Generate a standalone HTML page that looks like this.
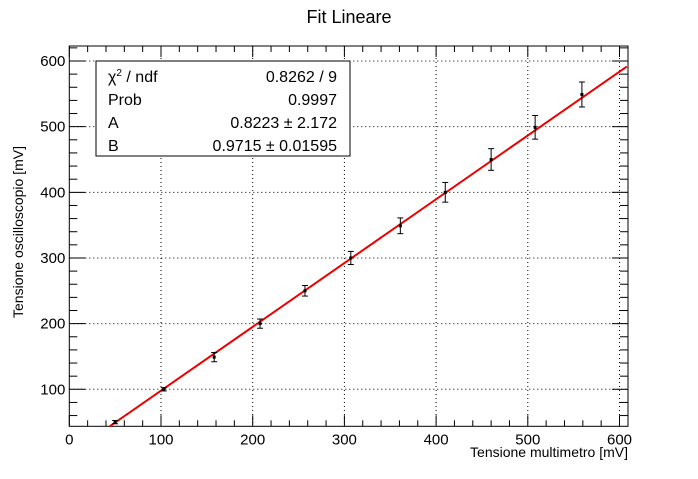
<!DOCTYPE html>
<html><head><meta charset="utf-8"><style>
body{margin:0;background:#fff;width:698px;height:474px;overflow:hidden}
svg text{font-family:"Liberation Sans",sans-serif}
</style></head><body>
<svg id="c" width="698" height="474" xmlns="http://www.w3.org/2000/svg">
<text x="349" y="23" font-size="18" text-anchor="middle">Fit Lineare</text>
<g id="grid"></g><g id="axes"></g><g id="marks"></g>
<g>
<rect x="96" y="61" width="254" height="95" fill="#fff" stroke="#000" stroke-width="1"/>
<text x="108" y="82" font-size="16">χ<tspan font-size="10" dy="-6">2</tspan><tspan dy="6"> / ndf</tspan></text>
<text x="337" y="82" font-size="16" text-anchor="end">0.8262 / 9</text>
<text x="108" y="105" font-size="16">Prob</text>
<text x="337" y="105" font-size="16" text-anchor="end">0.9997</text>
<text x="108" y="128" font-size="16">A</text>
<text x="337" y="128" font-size="16" text-anchor="end">0.8223 ± 2.172</text>
<text x="108" y="151" font-size="16">B</text>
<text x="337" y="151" font-size="16" text-anchor="end">0.9715 ± 0.01595</text>
</g>
<text x="628" y="457" font-size="14" text-anchor="end">Tensione multimetro [mV]</text>
<text transform="translate(23,232) rotate(-90)" font-size="14" text-anchor="middle">Tensione oscilloscopio [mV]</text>
</svg>
<script>
const xVals=[50,103,158,208,257,307,361,410,460,508,559];
const yVals=[50,100,149,200,250,300,349,400,450,499,549];
const yErrs=[2.5,2.5,7,7,8,10,12,15,16.5,18,19];
const fitA=0.8223, fitB=0.9715;
const xTicks=[0,100,200,300,400,500,600];
const yTicks=[100,200,300,400,500,600];
const L=69.3,R=628,T=46,B=426.3;
const xMin=0,xMax=(R-L)/0.917,yMin=100-(B-389.3)/0.6566,yMax=100+(389.3-T)/0.6566;
const X=v=>L+(v-xMin)/(xMax-xMin)*(R-L);
const Y=v=>B-(v-yMin)/(yMax-yMin)*(B-T);
const NS="http://www.w3.org/2000/svg";
function mk(p,tag,at){const e=document.createElementNS(NS,tag);for(const k in at)e.setAttribute(k,at[k]);p.appendChild(e);return e;}
const g=document.getElementById('grid'),ax=document.getElementById('axes'),m=document.getElementById('marks');
xTicks.forEach(t=>{if(t>xMin&&t<xMax){const l=mk(g,'line',{x1:X(t),x2:X(t),y1:T,y2:B,stroke:'#000','stroke-width':1,'stroke-dasharray':'1,3'});

}
const tx=mk(ax,'text',{x:X(t),y:B+18,'font-size':15,'text-anchor':'middle'});tx.textContent=t;

});
yTicks.forEach(t=>{const l=mk(g,'line',{x1:L,x2:R,y1:Y(t),y2:Y(t),stroke:'#000','stroke-width':1,'stroke-dasharray':'1,3'});


const tx=mk(ax,'text',{x:L-4,y:Y(t)+5,'font-size':15,'text-anchor':'end'});tx.textContent=t;

});
for(let v=0;v<=xMax;v+=20){const big=v%100===0;mk(ax,'line',{x1:X(v),x2:X(v),y1:B,y2:B-(big?11:6),stroke:'#000'});mk(ax,'line',{x1:X(v),x2:X(v),y1:T,y2:T+(big?11:6),stroke:'#000'});}
for(let v=60;v<=yMax;v+=20){const big=v%100===0;mk(ax,'line',{x1:L,x2:L+(big?16:8),y1:Y(v),y2:Y(v),stroke:'#000'});mk(ax,'line',{x1:R,x2:R-(big?16:8),y1:Y(v),y2:Y(v),stroke:'#000'});}
const fr=mk(ax,'rect',{x:L,y:T,width:R-L,height:B-T,fill:'none',stroke:'#000','stroke-width':1});


const x0=(yMin-fitA)/fitB, x1=608;
const fl=mk(m,'line',{x1:X(x0),y1:Y(fitA+fitB*x0),x2:X(x1),y2:Y(fitA+fitB*x1),stroke:'#e00','stroke-width':2});


xVals.forEach((xv,i)=>{const gg=mk(m,'g',{});


const cx=X(xv),y1=Y(yVals[i]+yErrs[i]),y2=Y(yVals[i]-yErrs[i]);
mk(gg,'line',{x1:cx,x2:cx,y1:y1,y2:y2,stroke:'#000','stroke-width':1});
mk(gg,'line',{x1:cx-3,x2:cx+3,y1:y1,y2:y1,stroke:'#000'});
mk(gg,'line',{x1:cx-3,x2:cx+3,y1:y2,y2:y2,stroke:'#000'});
mk(gg,'rect',{x:cx-1.5,y:Y(yVals[i])-1.5,width:3,height:3,fill:'#000'});});
</script>
</body></html>
